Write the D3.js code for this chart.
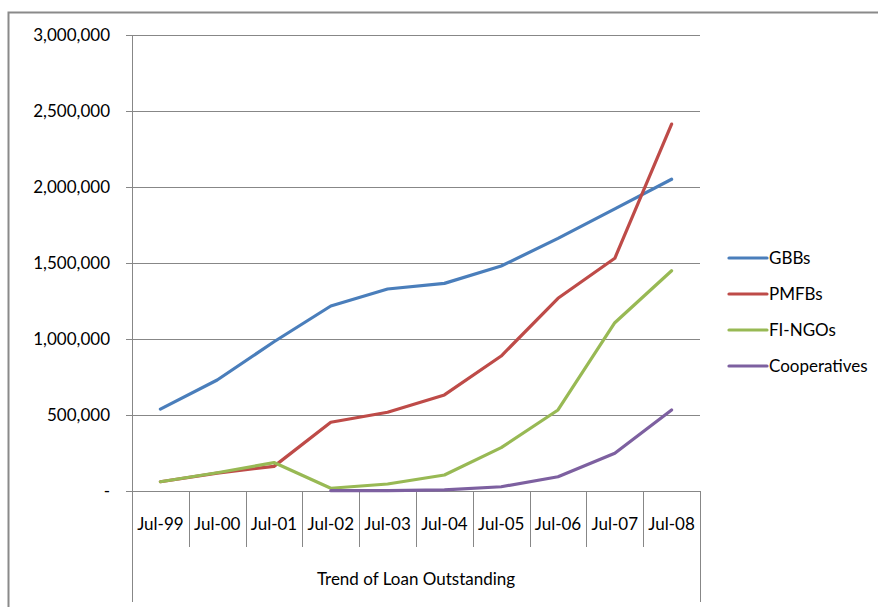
<!DOCTYPE html>
<html>
<head>
<meta charset="utf-8">
<script src="https://cdn.jsdelivr.net/npm/d3@7"></script>
<style>
  html, body { margin: 0; padding: 0; background: #fff; }
  svg { display: block; }
  text { font-family: Lato, "Open Sans", "Liberation Sans", sans-serif; fill: #000; }
</style>
</head>
<body>
<svg id="chart" width="878" height="607"></svg>
<script>
// Loan outstanding by institution type, July of each year
const categories = ["Jul-99", "Jul-00", "Jul-01", "Jul-02", "Jul-03", "Jul-04", "Jul-05", "Jul-06", "Jul-07", "Jul-08"];
const gbbs         = [539000, 730000, 982000, 1217000, 1329000, 1366000, 1480000, 1662000, 1856000, 2051000];
const pmfbs        = [61000, 118000, 162000, 452000, 518000, 632000, 888000, 1268000, 1531000, 2414000];
const fiNgos       = [61000, 120000, 187000, 18000, 46000, 105000, 285000, 533000, 1107000, 1449000];
const cooperatives = [null, null, null, 2000, 3000, 8000, 28000, 94000, 248000, 533000];
const seriesNames  = ["GBBs", "PMFBs", "FI-NGOs", "Cooperatives"];
const yTicks       = [0, 500000, 1000000, 1500000, 2000000, 2500000, 3000000];
const axisTitle    = "Trend of Loan Outstanding";

const colors = ["#4A7EBB", "#BE4B48", "#98B954", "#7D60A0"];
const seriesValues = [gbbs, pmfbs, fiNgos, cooperatives];

const svg = d3.select("#chart");
const plot = { left: 132, right: 700, top: 35, bottom: 491 };
const gridColor = "#878787";

// Outer chart frame
svg.append("rect")
  .attr("x", 8.5).attr("y", 12.5)
  .attr("width", 900).attr("height", 620)
  .attr("fill", "none").attr("stroke", "#8a8a8a").attr("stroke-width", 2);

const x = d3.scaleBand().domain(categories).range([plot.left, plot.right]).paddingInner(0).paddingOuter(0);
const y = d3.scaleLinear().domain([0, 3000000]).range([plot.bottom, plot.top]);

// Horizontal gridlines
svg.append("g")
  .attr("transform", `translate(${plot.left},0)`)
  .call(d3.axisLeft(y).tickValues(yTicks).tickSize(-(plot.right - plot.left)).tickFormat(""))
  .call(g => g.select(".domain").remove())
  .call(g => g.selectAll("line").attr("stroke", gridColor).attr("stroke-width", 1));

// Value axis with labels
svg.append("g")
  .attr("transform", `translate(${plot.left},0)`)
  .call(d3.axisLeft(y).tickValues(yTicks).tickSize(6).tickPadding(16)
    .tickFormat(d => d === 0 ? "-" : d3.format(",")(d)))
  .call(g => g.select(".domain").remove())
  .call(g => g.selectAll("line").attr("stroke", gridColor))
  .call(g => g.selectAll("text").style("font-size", "17px").attr("fill", "#000"));

// Category axis: separators, labels and the spanning group label
const axisG = svg.append("g");
const bounds = categories.map(c => x(c)).concat([x(categories[categories.length - 1]) + x.bandwidth()]);
axisG.selectAll("line.sep").data(bounds).join("line")
  .attr("class", "sep")
  .attr("x1", d => Math.round(d) + 0.5).attr("x2", d => Math.round(d) + 0.5)
  .attr("y1", plot.bottom)
  .attr("y2", (d, i) => (i === 0 || i === bounds.length - 1) ? 602 : 547)
  .attr("stroke", gridColor).attr("stroke-width", 1);
axisG.append("line")
  .attr("x1", plot.left).attr("x2", plot.right)
  .attr("y1", y(0) + 0.5).attr("y2", y(0) + 0.5)
  .attr("stroke", gridColor);
axisG.append("line")
  .attr("x1", plot.left + 0.5).attr("x2", plot.left + 0.5)
  .attr("y1", plot.top).attr("y2", plot.bottom)
  .attr("stroke", gridColor);
axisG.selectAll("text.cat").data(categories).join("text")
  .attr("class", "cat")
  .attr("x", d => x(d) + x.bandwidth() / 2)
  .attr("y", 530)
  .attr("text-anchor", "middle")
  .style("font-size", "17px")
  .text(d => d);
axisG.append("text")
  .attr("x", (plot.left + plot.right) / 2)
  .attr("y", 585)
  .attr("text-anchor", "middle")
  .style("font-size", "17px")
  .text(axisTitle);

// Series lines
const line = d3.line()
  .defined(d => d.v != null)
  .x(d => x(d.c) + x.bandwidth() / 2)
  .y(d => y(d.v));

seriesValues.forEach((vals, i) => {
  svg.append("path")
    .datum(categories.map((c, j) => ({ c, v: vals[j] })))
    .attr("d", line)
    .attr("fill", "none")
    .attr("stroke", colors[i])
    .attr("stroke-width", 3.2)
    .attr("stroke-linejoin", "round")
    .attr("stroke-linecap", "round");
});

// Legend
const legend = svg.append("g");
seriesNames.forEach((name, i) => {
  const ly = 258 + i * 36;
  legend.append("line")
    .attr("x1", 729).attr("x2", 767).attr("y1", ly).attr("y2", ly)
    .attr("stroke", colors[i]).attr("stroke-width", 3.2).attr("stroke-linecap", "round");
  legend.append("text")
    .attr("x", 769).attr("y", ly + 6)
    .style("font-size", "17px")
    .text(name);
});
</script>
</body>
</html>
